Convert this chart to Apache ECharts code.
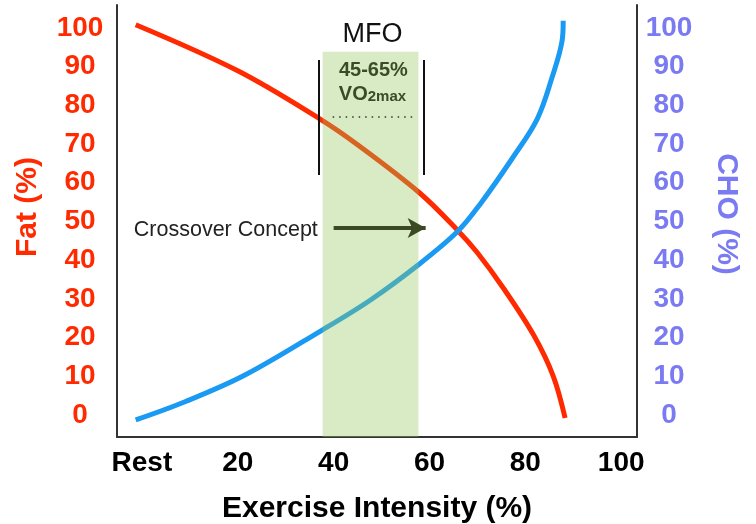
<!DOCTYPE html>
<html>
<head>
<meta charset="utf-8">
<script src="https://cdn.jsdelivr.net/npm/echarts@6/dist/echarts.min.js"></script>
<style>html,body{margin:0;padding:0;background:#fff}#c{width:756px;height:524px}</style>
</head>
<body>
<div id="c"></div>
<script>
// ---- data ----
const xTickValues = [0, 20, 40, 60, 80, 100];
const xTickLabels = ['Rest', '20', '40', '60', '80', '100'];
const yTickValues = [0, 10, 20, 30, 40, 50, 60, 70, 80, 90, 100];

const fatX = [-1.3, 20, 37.1, 45, 57.9, 65.8, 70, 75.4, 81.7, 85.8, 88.3];
const fatY = [100.8, 88.9, 76.5, 69.8, 57.4, 47.8, 41.9, 32.8, 20.7, 10.1, -0.8];

const choX = [-1.3, 9, 21.5, 37.7, 47.7, 57.7, 65.8, 70.6, 77.5, 82.5, 85.6, 87.7, 87.9];
const choY = [-1.3, 3.4, 10.3, 22.0, 29.7, 38.8, 47.3, 54.5, 66.7, 76.5, 87.3, 96.9, 101.8];

// annotation anchors (data units)
const bandX = [37.7, 57.7];
const bandTop = 93.8;
const bracketX = [36.9, 58.8];
const bracketY = [62.0, 91.7];
const dottedX = [39.8, 56.9];
const dottedY = 77;
const arrowX = [40, 59.2];
const arrowY = 48.3;
const crossTextPos = [36.7, 47.8];
const mfoPos = [48.1, 98.2];
const rangePos = [48.3, 89.1];
const vo2Pos = [48.1, 82.7];

const X_MIN = -5.2, X_MAX = 103.3, Y_MIN = -5.7, Y_MAX = 105.9;
const FONT = '"Liberation Sans", Arial, Helvetica, sans-serif';

const zip = (a, b) => a.map((v, i) => [v, b[i]]);

const chart = echarts.init(document.getElementById('c'), null, {renderer: 'canvas'});

const axisLine = {show: true, onZero: false, lineStyle: {color: '#333', width: 2}};

chart.setOption({
  animation: false,
  backgroundColor: '#fff',
  grid: {left: 117, right: 119, top: 5, bottom: 87, containLabel: false, outerBoundsMode: 'none'},
  xAxis: {
    type: 'value', min: X_MIN, max: X_MAX,
    axisLine: axisLine,
    axisTick: {show: false},
    splitLine: {show: false},
    axisLabel: {
      customValues: xTickValues,
      formatter: v => xTickLabels[xTickValues.indexOf(v)],
      color: '#000', fontSize: 28, fontWeight: 'bold', fontFamily: FONT, margin: 12
    },
    name: 'Exercise Intensity (%)', nameLocation: 'middle', nameGap: 57,
    nameTextStyle: {color: '#000', fontSize: 30, fontWeight: 'bold', fontFamily: FONT}
  },
  yAxis: [
    {
      type: 'value', position: 'left', min: Y_MIN, max: Y_MAX,
      axisLine: axisLine, axisTick: {show: false}, splitLine: {show: false},
      axisLabel: {customValues: yTickValues, color: '#ff2a00', fontSize: 28, fontWeight: 'bold',
        fontFamily: FONT, align: 'center', margin: 37, padding: [4, 0, 0, 0]},
      name: 'Fat (%)', nameLocation: 'middle', nameRotate: 90, nameGap: 74,
      nameTextStyle: {color: '#ff2a00', fontSize: 30, fontWeight: 'bold', fontFamily: FONT, padding: [0, 0, 0, 28]}
    },
    {
      type: 'value', position: 'right', min: Y_MIN, max: Y_MAX,
      axisLine: axisLine, axisTick: {show: false}, splitLine: {show: false},
      axisLabel: {customValues: yTickValues, color: '#7a7af2', fontSize: 28, fontWeight: 'bold',
        fontFamily: FONT, align: 'center', margin: 32, padding: [4, 0, 0, 0]},
      name: 'CHO (%)', nameLocation: 'middle', nameRotate: -90, nameGap: 74,
      nameTextStyle: {color: '#7a7af2', fontSize: 30, fontWeight: 'bold', fontFamily: FONT, padding: [0, 14, 0, 0]}
    }
  ],
  series: [
    {
      name: 'Fat', type: 'line', yAxisIndex: 0, z: 2,
      data: zip(fatX, fatY), smooth: 0.35, showSymbol: false,
      lineStyle: {color: '#ff2a00', width: 5}
    },
    {
      name: 'CHO', type: 'line', yAxisIndex: 1, z: 2,
      data: zip(choX, choY), smooth: 0.35, showSymbol: false,
      lineStyle: {color: '#1a9af2', width: 5}
    },
    {
      name: 'annotations', type: 'line', yAxisIndex: 0, z: 5, data: [],
      markArea: {
        silent: true, z: 4,
        itemStyle: {color: 'rgb(149,201,98)', opacity: 0.37},
        data: [[{xAxis: bandX[0], yAxis: bandTop}, {xAxis: bandX[1], yAxis: Y_MIN}]]
      },
      markLine: {
        silent: true, z: 6, animation: false,
        label: {show: false},
        data: [
          [{coord: [bracketX[0], bracketY[0]], symbol: 'none', lineStyle: {color: '#111', width: 2, type: 'solid'}},
           {coord: [bracketX[0], bracketY[1]], symbol: 'none'}],
          [{coord: [bracketX[1], bracketY[0]], symbol: 'none', lineStyle: {color: '#111', width: 2, type: 'solid'}},
           {coord: [bracketX[1], bracketY[1]], symbol: 'none'}],
          [{coord: [dottedX[0], dottedY], symbol: 'none', lineStyle: {color: '#333', width: 1.5, type: [1.5, 5]}},
           {coord: [dottedX[1], dottedY], symbol: 'none'}],
          [{coord: [arrowX[0], arrowY], symbol: 'none', lineStyle: {color: '#3b4a22', width: 4, type: 'solid'}},
           {coord: [arrowX[1], arrowY], symbol: 'arrow', symbolSize: [15, 18]}]
        ]
      },
      markPoint: {
        silent: true, z: 7, symbol: 'circle', symbolSize: 0,
        data: [
          {coord: crossTextPos, label: {show: true, position: 'left', distance: 0, formatter: 'Crossover Concept',
            color: '#222', fontSize: 21.5, fontFamily: FONT}},
          {coord: mfoPos, label: {show: true, position: 'inside', formatter: 'MFO',
            color: '#111', fontSize: 27, fontFamily: FONT}},
          {coord: rangePos, label: {show: true, position: 'inside', formatter: '45-65%',
            color: '#3b4a28', fontSize: 20, fontWeight: 'bold', fontFamily: FONT}},
          {coord: vo2Pos, label: {show: true, position: 'inside', formatter: '{a|VO}{b|2max}',
            rich: {
              a: {color: '#3b4a28', fontSize: 20, fontWeight: 'bold', fontFamily: FONT, verticalAlign: 'bottom'},
              b: {color: '#3b4a28', fontSize: 15, fontWeight: 'bold', fontFamily: FONT, verticalAlign: 'bottom'}
            }}}
        ]
      }
    }
  ]
});
</script>
</body>
</html>
